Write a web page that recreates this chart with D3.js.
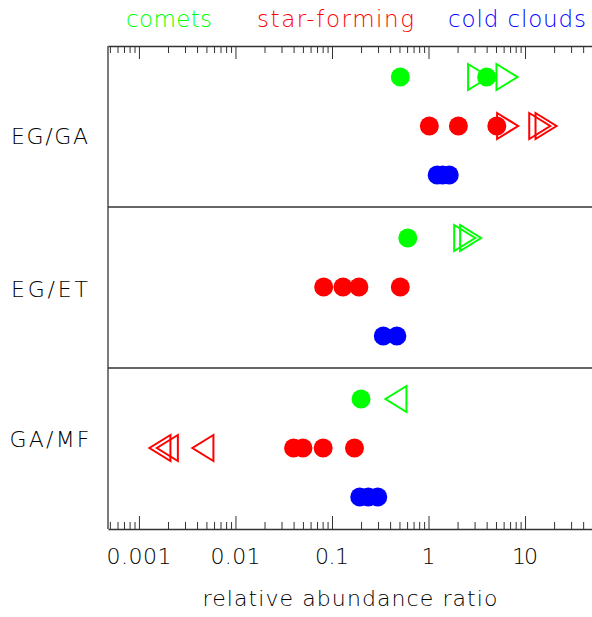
<!DOCTYPE html>
<html>
<head>
<meta charset="utf-8">
<script src="https://cdn.jsdelivr.net/npm/d3@7"></script>
<style>
  body { margin: 0; background: #fff; }
  text { font-family: "DejaVu Sans", sans-serif; font-weight: 200; }
</style>
</head>
<body>
<div id="chart"></div>
<script>
// ratio pairs (panels) and source groups (rows in each panel)
const pairs = ["EG/GA", "EG/ET", "GA/MF"];
const groups = ["comets", "star-forming", "cold clouds"];
const groupColors = ["#00ff00", "#ff0000", "#0000ff"];
const tickLabels = ["0.001", "0.01", "0.1", "1", "10"];

// measured values (filled circles)
const cometValues = [[0.51, 4.0], [0.61], [0.20]];
const starFormingValues = [[1.02, 2.04, 5.1], [0.082, 0.13, 0.19, 0.51], [0.040, 0.050, 0.081, 0.171]];
const coldCloudValues = [[1.23, 1.4, 1.64], [0.34, 0.47], [0.194, 0.238, 0.298]];

// limits (open triangles): lower limits point right, upper limits point left
const cometLowerLimits = [[3.3, 6.5], [2.37, 2.73], []];
const cometUpperLimits = [[], [], [0.46]];
const starFormingLowerLimits = [[6.6, 14.2, 16.5], [], []];
const starFormingUpperLimits = [[], [], [0.00165, 0.00197, 0.0046]];

const width = 592, height = 617;
const margin = {left: 108, right: 0, top: 46, bottom: 88};

const svg = d3.select("#chart").append("svg")
  .attr("width", width).attr("height", height);

const x = d3.scaleLog()
  .domain([0.000478, 49.4])
  .range([margin.left, width - margin.right]);

const yPanel = d3.scaleBand().domain(pairs)
  .range([margin.top, height - margin.bottom]);
const yRow = d3.scalePoint().domain(groups).range([31, 129]);
const yOf = (pair, group) => yPanel(pair) + yRow(group);

const bottomY = height - margin.bottom;
const lineColor = "#333";

// panel dividers
svg.append("g").selectAll("line")
  .data(pairs.slice(1))
  .enter().append("line")
  .attr("x1", margin.left).attr("x2", width)
  .attr("y1", d => yPanel(d)).attr("y2", d => yPanel(d))
  .attr("stroke", lineColor).attr("stroke-width", 1.3);

// axes with custom ticks (major = decades)
const ticks = x.ticks();
const isMajor = d => Math.abs(Math.log10(d) - Math.round(Math.log10(d))) < 1e-6;

const bottomAxis = d3.axisBottom(x).tickValues(ticks).tickFormat("").tickSizeOuter(0);
const topAxis = d3.axisTop(x).tickValues(ticks).tickFormat("").tickSizeOuter(0);

const gb = svg.append("g").attr("transform", `translate(0,${bottomY})`).call(bottomAxis);
const gt = svg.append("g").attr("transform", `translate(0,${margin.top})`).call(topAxis);
[gb, gt].forEach((g, i) => {
  g.select(".domain").attr("stroke", lineColor).attr("stroke-width", 1.3);
  g.selectAll(".tick line")
    .attr("stroke", lineColor)
    .attr("y2", d => (i === 0 ? -1 : 1) * (isMajor(d) ? 13 : 7));
});

// left axis line
svg.append("line")
  .attr("x1", margin.left).attr("x2", margin.left)
  .attr("y1", margin.top).attr("y2", bottomY)
  .attr("stroke", lineColor).attr("stroke-width", 1.3);

// tick labels
const labelWidths = [65, 50, 34, 10, 26];
svg.append("g").selectAll("text")
  .data(tickLabels)
  .enter().append("text")
  .attr("x", d => x(+d))
  .attr("y", 564)
  .attr("text-anchor", "middle")
  .attr("font-size", 22)
  .attr("textLength", (d, i) => d.length > 1 ? labelWidths[i] : null)
  .attr("lengthAdjust", "spacing")
  .text(d => d);

// axis title
svg.append("text")
  .attr("x", (margin.left + width) / 2).attr("y", 606)
  .attr("text-anchor", "middle").attr("font-size", 22)
  .attr("textLength", 295).attr("lengthAdjust", "spacing")
  .text("relative abundance ratio");

// panel labels
const pairWidths = [77, 77, 80];
const pairBaseline = [98, 90, 79];
svg.append("g").selectAll("text")
  .data(pairs)
  .enter().append("text")
  .attr("x", 49.5)
  .attr("y", (d, i) => yPanel(d) + pairBaseline[i])
  .attr("text-anchor", "middle")
  .attr("font-size", 22)
  .attr("textLength", (d, i) => pairWidths[i])
  .attr("lengthAdjust", "spacing")
  .text(d => d);

// legend (group names in colour along the top)
const legendX = [169, 335.5, 517];
const legendW = [86, 157, 138];
svg.append("g").selectAll("text")
  .data(groups)
  .enter().append("text")
  .attr("x", (d, i) => legendX[i]).attr("y", 27)
  .attr("text-anchor", "middle").attr("font-size", 23)
  .attr("fill", (d, i) => groupColors[i])
  .attr("textLength", (d, i) => legendW[i]).attr("lengthAdjust", "spacing")
  .text(d => d);

// flatten data into marks
const circles = [];
const triangles = [];
[cometValues, starFormingValues, coldCloudValues].forEach((arr, gi) => {
  arr.forEach((vals, pi) => vals.forEach(v => circles.push({pair: pairs[pi], group: groups[gi], value: v, color: groupColors[gi]})));
});
[[cometLowerLimits, 0, 1], [cometUpperLimits, 0, -1], [starFormingLowerLimits, 1, 1], [starFormingUpperLimits, 1, -1]]
  .forEach(([arr, gi, dir]) => {
    arr.forEach((vals, pi) => vals.forEach(v => triangles.push({pair: pairs[pi], group: groups[gi], value: v, color: groupColors[gi], dir: dir})));
  });

const hw = 10.5, hh = 13;
svg.append("g").selectAll("path")
  .data(triangles)
  .enter().append("path")
  .attr("transform", d => `translate(${x(d.value)},${yOf(d.pair, d.group)})`)
  .attr("d", d => `M${-hw * d.dir},${-hh}L${hw * d.dir},0L${-hw * d.dir},${hh}Z`)
  .attr("fill", "none")
  .attr("stroke", d => d.color)
  .attr("stroke-width", 2);

svg.append("g").selectAll("circle")
  .data(circles)
  .enter().append("circle")
  .attr("cx", d => x(d.value))
  .attr("cy", d => yOf(d.pair, d.group))
  .attr("r", 9.5)
  .attr("fill", d => d.color);
</script>
</body>
</html>
